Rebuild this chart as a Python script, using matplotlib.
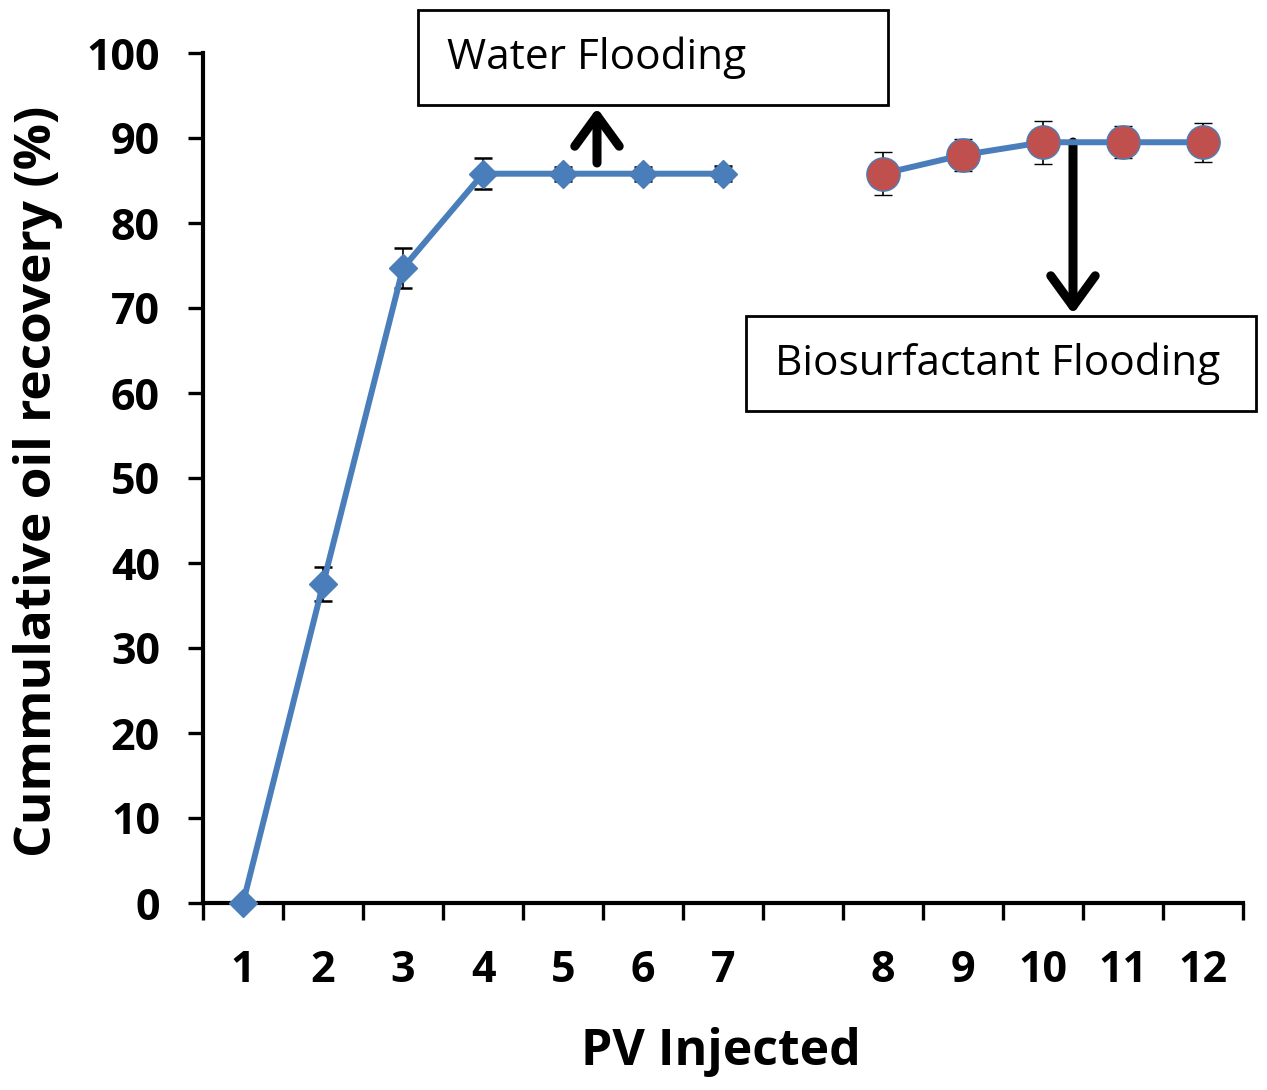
import matplotlib
matplotlib.use("Agg")
import matplotlib.pyplot as plt
from matplotlib.patches import Rectangle

# categories on the x axis (an empty slot separates the two floods)
categories = ["1", "2", "3", "4", "5", "6", "7", "", "8", "9", "10", "11", "12"]

# water flooding
pv_water = ["1", "2", "3", "4", "5", "6", "7"]
rec_water = [0, 37.5, 74.7, 85.8, 85.8, 85.8, 85.8]
err_water = [0, 2.0, 2.4, 1.8, 0.8, 0.8, 0.9]

# biosurfactant flooding
pv_bio = ["8", "9", "10", "11", "12"]
rec_bio = [85.8, 88.0, 89.5, 89.5, 89.5]
err_bio = [2.5, 1.9, 2.5, 1.9, 2.3]

y_ticks = list(range(0, 101, 10))

W, H = 1267, 1090
BLUE = "#4A7EBB"
RED = "#C0504D"
FONT = "Open Sans"

fig = plt.figure(figsize=(W / 100, H / 100), dpi=100)
ax = fig.add_axes([203 / W, 1 - 903 / H, (1243 - 203) / W, (903 - 53) / H])


def pos(labels):
    return [categories.index(c) + 1 for c in labels]


ax.errorbar(pos(pv_water), rec_water, yerr=err_water, color=BLUE, lw=4.3,
            marker="D", ms=14, mfc=BLUE, mec=BLUE, ecolor="black",
            elinewidth=1.2, capsize=6.5, capthick=1.8, clip_on=False, zorder=3)
ax.errorbar(pos(pv_bio), rec_bio, yerr=err_bio, color=BLUE, lw=4.3,
            marker="o", ms=24, mfc=RED, mec=BLUE, mew=1.0, ecolor="black",
            elinewidth=1.2, capsize=6.5, capthick=1.8, clip_on=False, zorder=3)

ax.set_xlim(0.5, len(categories) + 0.5)
ax.set_ylim(0, 100)

# ticks between categories, labels at category centres
ax.set_xticks([i + 0.5 for i in range(len(categories) + 1)])
ax.set_xticklabels([])
ax.set_xticks(range(1, len(categories) + 1), minor=True)
ax.set_xticklabels(categories, minor=True, fontsize=31, fontweight="bold",
                   family=FONT)
ax.tick_params(axis="x", which="major", direction="out", length=12, width=2.4)
ax.tick_params(axis="x", which="minor", length=0, pad=33)

ax.set_yticks(y_ticks)
ax.set_yticklabels([str(v) for v in y_ticks], fontsize=31, fontweight="bold",
                   family=FONT)
ax.tick_params(axis="y", direction="out", length=11, width=2.4, pad=20)

for s in ["top", "right"]:
    ax.spines[s].set_visible(False)
for s in ["left", "bottom"]:
    ax.spines[s].set_linewidth(3)

fig.text(721 / W, 1 - 1052 / H, "PV Injected", ha="center", va="center",
         fontsize=36, fontweight="bold", family=FONT)
fig.text(38 / W, 1 - 481 / H, "Cummulative oil recovery (%)", ha="center",
         va="center", rotation=90, fontsize=37, fontweight="bold", family=FONT)


def label_box(x0, y0, x1, y1, text):
    fig.add_artist(Rectangle((x0 / W, 1 - y1 / H), (x1 - x0) / W, (y1 - y0) / H,
                             transform=fig.transFigure, fill=False,
                             edgecolor="black", lw=2))
    fig.text((x0 + 29) / W, 1 - (y0 + y1) / 2 / H, text, ha="left",
             va="center", fontsize=30.5, family=FONT)


label_box(418, 10, 888, 105, "Water Flooding")
label_box(746, 316, 1256, 411, "Biosurfactant Flooding")

arrow = dict(arrowstyle="->,head_length=0.55,head_width=0.4", lw=6.5,
             color="black", shrinkA=0, shrinkB=0, mutation_scale=40)
ax.annotate("", xy=(597, H - 108), xytext=(597, H - 163),
            xycoords="figure pixels", textcoords="figure pixels",
            arrowprops=arrow)
ax.annotate("", xy=(1073, H - 314), xytext=(1073, H - 142),
            xycoords="figure pixels", textcoords="figure pixels",
            arrowprops=arrow)

fig.savefig("out.png", dpi=100)
